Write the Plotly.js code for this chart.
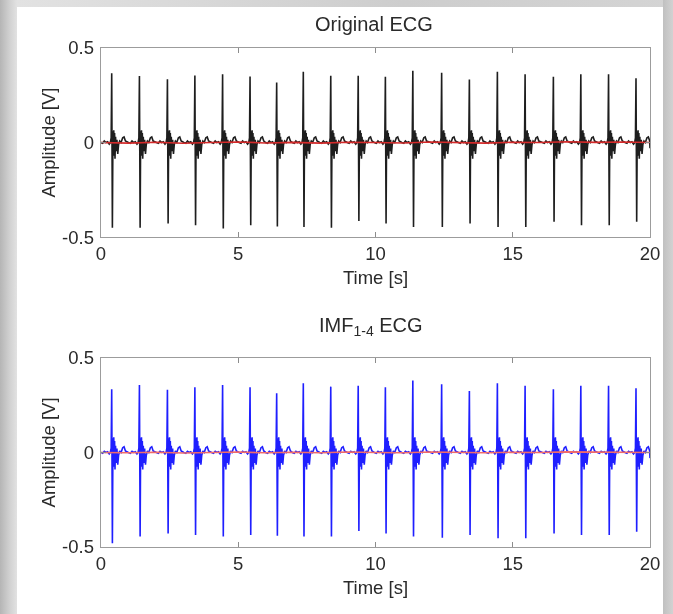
<!DOCTYPE html>
<html>
<head>
<meta charset="utf-8">
<script src="https://cdn.plot.ly/plotly-3.0.1.min.js"></script>
<style>
  html, body { margin:0; padding:0; }
  body { width:673px; height:614px; overflow:hidden; position:relative;
         background: linear-gradient(to right, #b5b5b5 0px, #d2d2d2 10px, #e2e2e2 17px, #cdcdcd 60%, #d4d4d4 100%); }
  #panel { position:absolute; left:17px; top:7px; width:646px; height:607px; background:#ffffff; }
  #rshade { position:absolute; left:663px; top:0; width:10px; height:614px;
            background: linear-gradient(to right, #c0c0c0, #d2d2d2); }
  #chart { position:absolute; left:0; top:0; width:673px; height:614px; filter: blur(0.45px); }
</style>
</head>
<body>
<div id="panel"></div>
<div id="rshade"></div>
<div id="chart"></div>
<script>
// ---- values ----
const beatTimes = [0.39,1.40,2.42,3.42,4.43,5.43,6.40,7.37,8.37,9.37,10.36,11.36,12.41,13.42,14.44,15.45,16.48,17.48,18.49,19.49];
const origPeaks = [0.366,0.352,0.335,0.354,0.361,0.349,0.317,0.375,0.353,0.353,0.348,0.380,0.369,0.334,0.375,0.361,0.348,0.361,0.361,0.340];
const origTroughs = [-0.451,-0.451,-0.428,-0.437,-0.454,-0.437,-0.444,-0.446,-0.451,-0.415,-0.428,-0.446,-0.446,-0.428,-0.446,-0.446,-0.419,-0.437,-0.437,-0.419];
const imfPeaks = [0.334,0.357,0.331,0.345,0.357,0.345,0.313,0.366,0.348,0.353,0.345,0.380,0.361,0.325,0.366,0.353,0.334,0.353,0.353,0.340];
const imfTroughs = [-0.480,-0.445,-0.428,-0.437,-0.445,-0.437,-0.440,-0.445,-0.445,-0.415,-0.428,-0.445,-0.451,-0.437,-0.454,-0.454,-0.428,-0.437,-0.437,-0.419];
// typical beat shape around each R spike (offset in s, amplitude in V); 'R' and 'S' take the per-beat values
const beatOffsets = [-0.40,-0.33,-0.27,-0.21,-0.15,-0.09,-0.05,-0.02,0.0,0.025,0.045,0.06,0.075,0.09,0.105,0.12,0.14,0.16,0.19,0.22,0.25,0.29,0.34,0.40,0.45,0.50];
const origShape = [0.0,-0.004,0.008,0.0,0.004,-0.008,0.0,0.025,'R','S',0.06,-0.04,0.065,-0.07,0.05,-0.085,0.03,-0.045,0.015,-0.06,-0.01,0.008,0.0,0.025,0.03,0.008];
const imfShape = [0.0,-0.004,0.006,0.0,0.004,-0.008,0.0,0.022,'R','S',0.075,-0.05,0.08,-0.075,0.06,-0.09,0.035,-0.055,0.02,-0.065,-0.015,0.008,0.0,0.025,0.03,0.008];
const trendTimes = [0,1,2,3,4,5,6,7,8,9,10,11,12,13,14,15,16,17,18,19,20];
const origTrend = [0.0,-0.003,0.002,-0.004,0.0,0.003,-0.002,0.001,-0.003,0.002,0.0,-0.002,0.003,0.0,-0.003,0.002,0.0,0.004,0.001,0.003,0.0];
const imfTrend = [0.0,-0.002,0.001,-0.003,0.0,0.002,-0.002,0.001,-0.002,0.002,0.0,-0.002,0.002,0.0,-0.002,0.001,0.0,0.003,0.001,0.002,0.0];
const xTicks = [0,5,10,15,20];
const yTicks = [-0.5,0,0.5];
const yTickText = ['-0.5','0','0.5'];

function buildSignal(peaks, troughs, shape) {
  const x = [0], y = [0];
  beatTimes.forEach((bt, i) => {
    beatOffsets.forEach((off, k) => {
      const t = bt + off;
      if (t <= 0 || t >= 20) return;
      let v = shape[k];
      if (v === 'R') v = peaks[i];
      else if (v === 'S') v = troughs[i];
      x.push(t); y.push(v);
    });
  });
  x.push(20); y.push(-0.03);
  return {x, y};
}
const orig = buildSignal(origPeaks, origTroughs, origShape);
const imf = buildSignal(imfPeaks, imfTroughs, imfShape);

const traces = [
  {x: orig.x, y: orig.y, xaxis:'x', yaxis:'y', type:'scatter', mode:'lines', line:{color:'#1e1e1e', width:1.6}, hoverinfo:'skip'},
  {x: trendTimes, y: origTrend, xaxis:'x', yaxis:'y', type:'scatter', mode:'lines', line:{color:'#d42a2a', width:1.6}, hoverinfo:'skip'},
  {x: imf.x, y: imf.y, xaxis:'x2', yaxis:'y2', type:'scatter', mode:'lines', line:{color:'#1f1fff', width:1.6}, hoverinfo:'skip'},
  {x: trendTimes, y: imfTrend, xaxis:'x2', yaxis:'y2', type:'scatter', mode:'lines', line:{color:'#f06a6a', width:1.6}, hoverinfo:'skip'}
];

const FONT = 'Liberation Sans, Arial, Helvetica, sans-serif';
const FS = 18.5;
function xax(anchor) {
  return {domain:[0,1], anchor:anchor, range:[0,20], tickvals:xTicks, ticks:'inside', ticklen:5,
    tickcolor:'#8c8c8c', tickwidth:1, mirror:'ticks', showline:true, linecolor:'#9c9c9c', linewidth:1.3,
    showgrid:false, zeroline:false, ticklabelstandoff:-1, tickfont:{family:FONT, size:FS, color:'#2a2a2a'},
    title:{text:'Time [s]', standoff:8, font:{family:FONT, size:FS, color:'#2a2a2a'}}};
}
function yax(anchor, dom) {
  return {domain:dom, anchor:anchor, range:[-0.5,0.5], tickvals:yTicks, ticktext:yTickText, ticks:'inside', ticklen:5,
    tickcolor:'#8c8c8c', tickwidth:1, mirror:'ticks', showline:true, linecolor:'#9c9c9c', linewidth:1.3,
    showgrid:false, zeroline:false, ticklabelstandoff:2, tickfont:{family:FONT, size:FS, color:'#2a2a2a'},
    title:{text:'Amplitude [V]', standoff:1, font:{family:FONT, size:FS, color:'#2a2a2a'}}};
}

const layout = {
  width:673, height:614,
  margin:{l:101, r:23, t:48, b:67, pad:0},
  paper_bgcolor:'rgba(0,0,0,0)', plot_bgcolor:'#ffffff',
  showlegend:false,
  font:{family:FONT, size:FS, color:'#2a2a2a'},
  xaxis: xax('y'),
  yaxis: yax('x', [0.621, 1]),
  xaxis2: xax('y2'),
  yaxis2: yax('x2', [0, 0.379]),
  annotations:[
    {text:'Original ECG', xref:'paper', yref:'paper', x:0.497, y:1.048, xanchor:'center', yanchor:'middle', showarrow:false, font:{family:FONT, size:20, color:'#2a2a2a'}},
    {text:'IMF<sub>1-4</sub> ECG', xref:'paper', yref:'paper', x:0.492, y:0.441, xanchor:'center', yanchor:'middle', showarrow:false, font:{family:FONT, size:20, color:'#2a2a2a'}}
  ]
};

Plotly.newPlot('chart', traces, layout, {displayModeBar:false, staticPlot:true});
</script>
</body>
</html>
